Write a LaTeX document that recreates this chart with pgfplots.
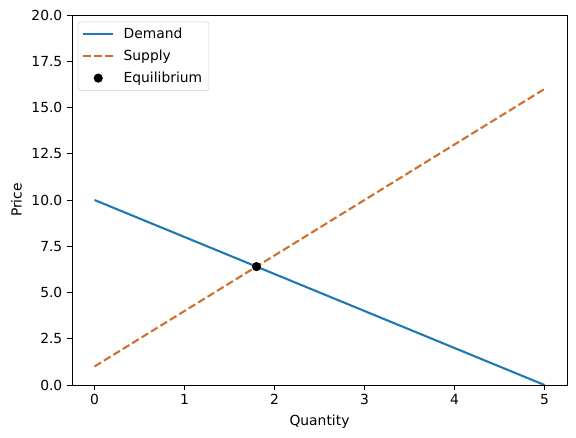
\documentclass[border=0pt]{standalone}
\usepackage{pgfplots}
\pgfplotsset{compat=1.18}
\usepackage{fontspec}
\setmainfont{DejaVu Sans}
\definecolor{demand}{HTML}{1F77B4}
\definecolor{supply}{RGB}{208,110,45}
\pgfplotsset{
  legline/.style={legend image code/.code={\draw[##1] (0pt,0pt) -- (22.5pt,0pt);}},
  legmark/.style={legend image code/.code={\path[draw=none,fill=none] (0pt,0pt) -- (22.5pt,0pt); \draw[##1] plot[only marks] coordinates {(11.25pt,0pt)};}},
}
\begin{document}
\fontsize{10.4}{12.5}\selectfont
\begin{tikzpicture}
\begin{axis}[
  at={(0,0)}, anchor=south west,
  scale only axis,
  width=371.25pt, height=277.5pt,
  xmin=-0.25, xmax=5.25,
  ymin=0, ymax=20,
  xtick={0,1,2,3,4,5},
  ytick={0,2.5,5,7.5,10,12.5,15,17.5,20},
  yticklabel style={/pgf/number format/.cd,fixed,fixed zerofill,precision=1},
  /pgf/number format/assume math mode=true,
  tick align=outside,
  major tick length=3.6pt,
  tick style={black, line width=0.6pt},
  xtick pos=bottom, ytick pos=left,
  axis line style={line width=0.6pt},
  ticklabel style={font=\fontsize{10.4}{12.5}\selectfont},
  xlabel={Quantity}, ylabel={Price},
  label style={font=\fontsize{10.4}{12.5}\selectfont},
  legend style={font=\fontsize{10.4}{12.5}\selectfont, draw=black!20, rounded corners=2pt, at={(0.012,0.982)}, anchor=north west, inner xsep=3pt, inner ysep=2.5pt, row sep=3pt,
    /tikz/every odd column/.append style={column sep=5pt}},
  legend cell align=left,
]
\addplot[demand, line width=1.56pt, no markers, legline] coordinates {(0,10) (5,0)};
\addlegendentry{Demand}
\addplot[supply, line width=1.56pt, no markers, dash pattern=on 5.8pt off 2.5pt, legline] coordinates {(0,1) (5,16)};
\addlegendentry{Supply}
\addplot[only marks, mark=*, mark size=3.2pt, black, legmark] coordinates {(1.8,6.4)};
\addlegendentry{Equilibrium}
\end{axis}
\path[use as bounding box] (-54pt,-39.75pt) rectangle (378pt,288.75pt);
\end{tikzpicture}
\end{document}
